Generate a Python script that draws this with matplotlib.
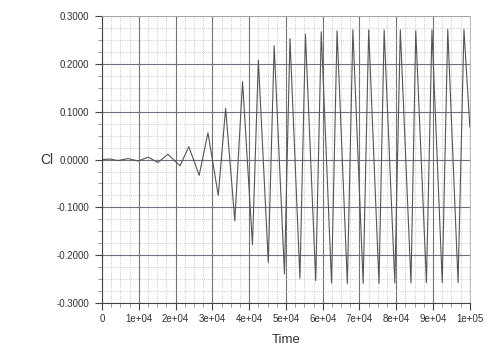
import matplotlib.pyplot as plt
from matplotlib.ticker import MultipleLocator, FuncFormatter

plt.rcParams["font.family"] = ["Liberation Sans", "DejaVu Sans"]

# extrema of the Cl signal (time, value)
time = [0, 2200, 4300, 7100, 9800, 12500, 15200, 17900, 21200, 23600,
        26400, 28800, 31600, 33600, 36100, 38200, 40900, 42500, 45200, 46800,
        49600, 51100, 53800, 55300, 58100, 59600, 62400, 63900, 66700, 68200,
        71000, 72500, 75300, 76700, 79600, 81100, 84000, 85300, 88200, 89700,
        92500, 94000, 96800, 98400, 100000]
cl = [0.000, 0.001, -0.002, 0.002, -0.003, 0.005, -0.006, 0.011, -0.013, 0.027,
      -0.033, 0.056, -0.075, 0.107, -0.128, 0.163, -0.178, 0.208, -0.215, 0.238,
      -0.239, 0.253, -0.248, 0.262, -0.253, 0.267, -0.258, 0.269, -0.259, 0.271,
      -0.259, 0.271, -0.259, 0.271, -0.258, 0.271, -0.258, 0.269, -0.257, 0.271,
      -0.257, 0.272, -0.257, 0.272, 0.068]

x_ticks = [0, 10000, 20000, 30000, 40000, 50000, 60000, 70000, 80000, 90000, 100000]
x_labels = ["0", "1e+04", "2e+04", "3e+04", "4e+04", "5e+04",
            "6e+04", "7e+04", "8e+04", "9e+04", "1e+05"]


def main():
    fig = plt.figure(figsize=(4.93, 3.48), dpi=100)
    ax = fig.add_axes([0.207, 0.129, 0.746, 0.825])

    ax.plot(time, cl, color="#555555", linewidth=0.8)

    ax.set_xlim(0, 100000)
    ax.set_ylim(-0.3, 0.3)
    ax.set_xticks(x_ticks)
    ax.set_xticklabels(x_labels)
    ax.xaxis.set_minor_locator(MultipleLocator(2500))
    ax.yaxis.set_major_locator(MultipleLocator(0.1))
    ax.yaxis.set_minor_locator(MultipleLocator(0.025))
    ax.yaxis.set_major_formatter(FuncFormatter(lambda v, p: f"{v:.4f}"))

    ax.grid(True, which="major", color="#707080", linewidth=0.8, linestyle="-")
    ax.grid(True, which="minor", color="#b8b8b8", linewidth=0.6, linestyle=":")
    ax.set_axisbelow(True)

    ax.tick_params(which="major", length=5, width=0.8, color="#444444",
                   labelsize=7, labelcolor="#333333", pad=4)
    ax.tick_params(which="minor", length=3, width=0.6, color="#888888")
    ax.tick_params(axis="x", pad=3)

    for side in ["top", "right"]:
        ax.spines[side].set_color("#b0b0b0")
        ax.spines[side].set_linewidth(0.6)
    for side in ["left", "bottom"]:
        ax.spines[side].set_color("#444444")
        ax.spines[side].set_linewidth(0.8)

    fig.text(286 / 493, 1 - 340 / 348, "Time", fontsize=9.5, color="#333333",
             ha="center", va="center")
    fig.text(0.095, 1 - 160 / 348, "Cl", fontsize=10, color="#333333",
             ha="center", va="center")

    fig.savefig("out.png", dpi=100)
    plt.close(fig)


if __name__ == "__main__":
    main()
